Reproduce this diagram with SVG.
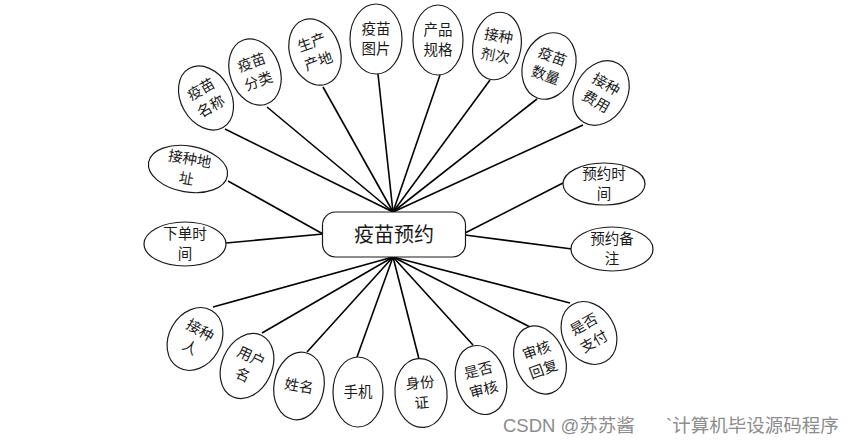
<svg xmlns="http://www.w3.org/2000/svg" width="861" height="444" viewBox="0 0 861 444">
<style>
.e{fill:#fff;stroke:#1a1a1a;stroke-width:1.2}
.t{font-family:"Noto Sans CJK SC","Liberation Sans",sans-serif;font-size:14.5px;fill:#1a1a1a;text-anchor:middle}
.c{stroke:#000;stroke-width:1.6;fill:none}
.w{font-family:"Liberation Sans","Noto Sans CJK SC",sans-serif;font-size:18.5px;fill:#8c8c8c}
</style>
<rect width="861" height="444" fill="#fff"/>
<g id="connectors" class="c">
<line x1="225" y1="129" x2="393" y2="212"/>
<line x1="267" y1="107" x2="393" y2="212"/>
<line x1="323" y1="87" x2="393" y2="212"/>
<line x1="378" y1="74" x2="393" y2="212"/>
<line x1="440" y1="75" x2="393" y2="212"/>
<line x1="490" y1="80" x2="393" y2="212"/>
<line x1="537" y1="99" x2="393" y2="212"/>
<line x1="583" y1="125" x2="393" y2="212"/>
<line x1="228" y1="181" x2="323" y2="234"/>
<line x1="226" y1="243" x2="323" y2="234"/>
<line x1="563" y1="183" x2="465" y2="233"/>
<line x1="572" y1="249" x2="465" y2="235"/>
<line x1="213" y1="307" x2="393" y2="257"/>
<line x1="262" y1="333" x2="393" y2="257"/>
<line x1="307" y1="352" x2="393" y2="257"/>
<line x1="357" y1="357" x2="393" y2="257"/>
<line x1="419" y1="359" x2="393" y2="257"/>
<line x1="473" y1="345" x2="393" y2="257"/>
<line x1="530" y1="327" x2="393" y2="257"/>
<line x1="570" y1="303" x2="393" y2="257"/>
</g>
<g id="center">
<rect x="322.5" y="212" width="143" height="45" rx="13" fill="#fff" stroke="#1a1a1a" stroke-width="1.2"/>
<text x="394" y="241.5" style="font-family:'Noto Sans CJK SC',sans-serif;font-size:20px;fill:#1a1a1a;text-anchor:middle">疫苗预约</text>
</g>
<g id="n1" transform="translate(206,98) rotate(-30)"><ellipse class="e" rx="25" ry="34"/><text class="t"><tspan x="0" y="-5">疫苗</tspan><tspan x="0" y="15">名称</tspan></text></g>
<g id="n2" transform="translate(255,72) rotate(-20)"><ellipse class="e" rx="25" ry="34"/><text class="t"><tspan x="0" y="-5">疫苗</tspan><tspan x="0" y="15">分类</tspan></text></g>
<g id="n3" transform="translate(315,52) rotate(-20)"><ellipse class="e" rx="25" ry="34"/><text class="t"><tspan x="0" y="-5">生产</tspan><tspan x="0" y="15">产地</tspan></text></g>
<g id="n4" transform="translate(376,39)"><ellipse class="e" rx="26" ry="35"/><text class="t"><tspan x="0" y="-5">疫苗</tspan><tspan x="0" y="15">图片</tspan></text></g>
<g id="n5" transform="translate(438,40)"><ellipse class="e" rx="25" ry="35"/><text class="t"><tspan x="0" y="-5">产品</tspan><tspan x="0" y="15">规格</tspan></text></g>
<g id="n6" transform="translate(497,46) rotate(10)"><ellipse class="e" rx="24" ry="34"/><text class="t"><tspan x="0" y="-5">接种</tspan><tspan x="0" y="15">剂次</tspan></text></g>
<g id="n7" transform="translate(549,66) rotate(20)"><ellipse class="e" rx="26" ry="34"/><text class="t"><tspan x="0" y="-5">疫苗</tspan><tspan x="0" y="15">数量</tspan></text></g>
<g id="n8" transform="translate(601,93) rotate(30)"><ellipse class="e" rx="26" ry="34"/><text class="t"><tspan x="0" y="-5">接种</tspan><tspan x="0" y="15">费用</tspan></text></g>
<g id="n9" transform="translate(188,169) rotate(10)"><ellipse class="e" rx="40" ry="23"/><text class="t"><tspan x="0" y="-5">接种地</tspan><tspan x="0" y="15">址</tspan></text></g>
<g id="n10" transform="translate(185,244)"><ellipse class="e" rx="41" ry="22"/><text class="t"><tspan x="0" y="-5">下单时</tspan><tspan x="0" y="15">间</tspan></text></g>
<g id="n11" transform="translate(604,184)"><ellipse class="e" rx="41" ry="21"/><text class="t"><tspan x="0" y="-5">预约时</tspan><tspan x="0" y="15">间</tspan></text></g>
<g id="n12" transform="translate(612,249)"><ellipse class="e" rx="41" ry="22"/><text class="t"><tspan x="0" y="-5">预约备</tspan><tspan x="0" y="15">注</tspan></text></g>
<g id="n13" transform="translate(195,339) rotate(30)"><ellipse class="e" rx="26" ry="33"/><text class="t"><tspan x="0" y="-5">接种</tspan><tspan x="0" y="15">人</tspan></text></g>
<g id="n14" transform="translate(247,366) rotate(25)"><ellipse class="e" rx="25" ry="34"/><text class="t"><tspan x="0" y="-5">用户</tspan><tspan x="0" y="15">名</tspan></text></g>
<g id="n15" transform="translate(299,386) rotate(10)"><ellipse class="e" rx="25" ry="34"/><text class="t" x="0" y="5">姓名</text></g>
<g id="n16" transform="translate(358,392)"><ellipse class="e" rx="25" ry="35"/><text class="t" x="0" y="5">手机</text></g>
<g id="n17" transform="translate(421,393) rotate(-5)"><ellipse class="e" rx="26" ry="34.5"/><text class="t"><tspan x="0" y="-5">身份</tspan><tspan x="0" y="15">证</tspan></text></g>
<g id="n18" transform="translate(481,380) rotate(-15)"><ellipse class="e" rx="25" ry="35"/><text class="t"><tspan x="0" y="-5">是否</tspan><tspan x="0" y="15">审核</tspan></text></g>
<g id="n19" transform="translate(540,360) rotate(-20)"><ellipse class="e" rx="25" ry="35"/><text class="t"><tspan x="0" y="-5">审核</tspan><tspan x="0" y="15">回复</tspan></text></g>
<g id="n20" transform="translate(589,333) rotate(-30)"><ellipse class="e" rx="26" ry="33"/><text class="t"><tspan x="0" y="-5">是否</tspan><tspan x="0" y="15">支付</tspan></text></g>
<text class="w" x="503" y="432">CSDN @苏苏酱</text>
<text class="w" x="666" y="432">`计算机毕设源码程序</text>
</svg>
